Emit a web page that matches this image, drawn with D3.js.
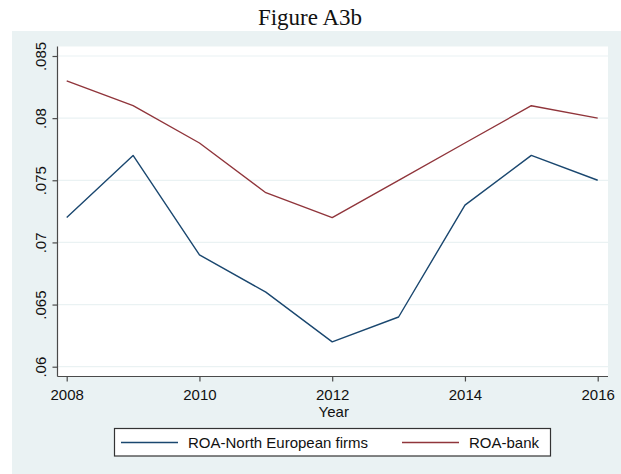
<!DOCTYPE html>
<html>
<head>
<meta charset="utf-8">
<script src="https://cdn.jsdelivr.net/npm/d3@7"></script>
<style>
  html, body { margin: 0; padding: 0; background: #ffffff; }
  svg { display: block; }
</style>
</head>
<body>
<svg id="chart" width="621" height="474"></svg>
<script>
// ROA series, 2008–2016
const years = [2008, 2009, 2010, 2011, 2012, 2013, 2014, 2015, 2016];
const roaNorth = [0.072, 0.077, 0.069, 0.066, 0.062, 0.064, 0.073, 0.077, 0.075];
const roaBank  = [0.083, 0.081, 0.078, 0.074, 0.072, 0.075, 0.078, 0.081, 0.080];
const yTicks = [0.06, 0.065, 0.07, 0.075, 0.08, 0.085];
const xTicks = [2008, 2010, 2012, 2014, 2016];
const seriesNames = ["ROA-North European firms", "ROA-bank"];

const svg = d3.select("#chart");
const W = 621, H = 474;
const bg = "#eaf2f3";
const colors = ["#1a476f", "#90353b"];
const font = "'Liberation Sans', Arial, sans-serif";
const fs = 15;

// title
svg.append("text")
  .attr("x", 310).attr("y", 25)
  .attr("text-anchor", "middle")
  .attr("font-family", "'Liberation Serif', 'Times New Roman', serif")
  .attr("font-size", 23)
  .attr("fill", "#111")
  .text("Figure A3b");

// graph region background
svg.append("rect")
  .attr("x", 12).attr("y", 31)
  .attr("width", W - 12).attr("height", H - 31)
  .attr("fill", bg);

// plot region
const plot = { left: 57.5, right: 608, top: 46.5, bottom: 376.5 };
svg.append("rect")
  .attr("x", plot.left).attr("y", plot.top)
  .attr("width", plot.right - plot.left).attr("height", plot.bottom - plot.top)
  .attr("fill", "#ffffff");

const x = d3.scaleLinear().domain([2008, 2016]).range([66.7, 597.7]);
const y = d3.scaleLinear().domain([0.06, 0.085]).range([366.7, 56]);

// horizontal grid lines
svg.append("g")
  .selectAll("line")
  .data(yTicks)
  .join("line")
  .attr("x1", plot.left).attr("x2", plot.right)
  .attr("y1", d => y(d)).attr("y2", d => y(d))
  .attr("stroke", bg).attr("stroke-width", 1.2);

const fmtY = d => d3.format(".3~f")(d).replace(/^0/, "");
const axisColor = "#4a4a4a";

// y axis
const yAxis = svg.append("g")
  .attr("transform", `translate(${plot.left},0)`)
  .call(d3.axisLeft(y).tickValues(yTicks).tickSize(5).tickPadding(4).tickFormat(fmtY));
yAxis.select(".domain").attr("d", `M0,${plot.top}V${plot.bottom}`)
  .attr("stroke", axisColor).attr("stroke-width", 1.2);
yAxis.selectAll(".tick line").attr("stroke", axisColor).attr("stroke-width", 1.2);
yAxis.selectAll("text")
  .attr("font-family", font).attr("font-size", fs).attr("fill", "#111")
  .attr("x", null).attr("dy", null)
  .attr("transform", "translate(-12,0) rotate(-90)")
  .attr("text-anchor", "middle");

// x axis
const xAxis = svg.append("g")
  .attr("transform", `translate(0,${plot.bottom})`)
  .call(d3.axisBottom(x).tickValues(xTicks).tickSize(5).tickPadding(4).tickFormat(d3.format("d")));
xAxis.select(".domain").attr("d", `M${plot.left},0H${plot.right}`)
  .attr("stroke", axisColor).attr("stroke-width", 1.2);
xAxis.selectAll(".tick line").attr("stroke", axisColor).attr("stroke-width", 1.2);
xAxis.selectAll("text")
  .attr("font-family", font).attr("font-size", fs).attr("fill", "#111")
  .attr("dy", null).attr("y", 23.5);

svg.append("text")
  .attr("x", (plot.left + plot.right) / 2 + 1).attr("y", 417)
  .attr("text-anchor", "middle")
  .attr("font-family", font).attr("font-size", fs).attr("fill", "#111")
  .text("Year");

// series lines
const line = d3.line().x((d, i) => x(years[i])).y(d => y(d));
[roaNorth, roaBank].forEach((s, k) => {
  svg.append("path")
    .datum(s)
    .attr("d", line)
    .attr("fill", "none")
    .attr("stroke", colors[k])
    .attr("stroke-width", 1.4)
    .attr("stroke-linejoin", "round");
});

// legend
const leg = svg.append("g");
leg.append("rect")
  .attr("x", 114.5).attr("y", 428.5)
  .attr("width", 436).attr("height", 27.5)
  .attr("fill", "#ffffff").attr("stroke", "#333").attr("stroke-width", 1.2);
const legItems = [
  { x1: 121, x2: 178, tx: 188 },
  { x1: 402, x2: 459, tx: 469 }
];
legItems.forEach((it, k) => {
  leg.append("line")
    .attr("x1", it.x1).attr("x2", it.x2)
    .attr("y1", 442.5).attr("y2", 442.5)
    .attr("stroke", colors[k]).attr("stroke-width", 1.4);
  leg.append("text")
    .attr("x", it.tx).attr("y", 448)
    .attr("font-family", font).attr("font-size", fs).attr("fill", "#111")
    .text(seriesNames[k]);
});
</script>
</body>
</html>
